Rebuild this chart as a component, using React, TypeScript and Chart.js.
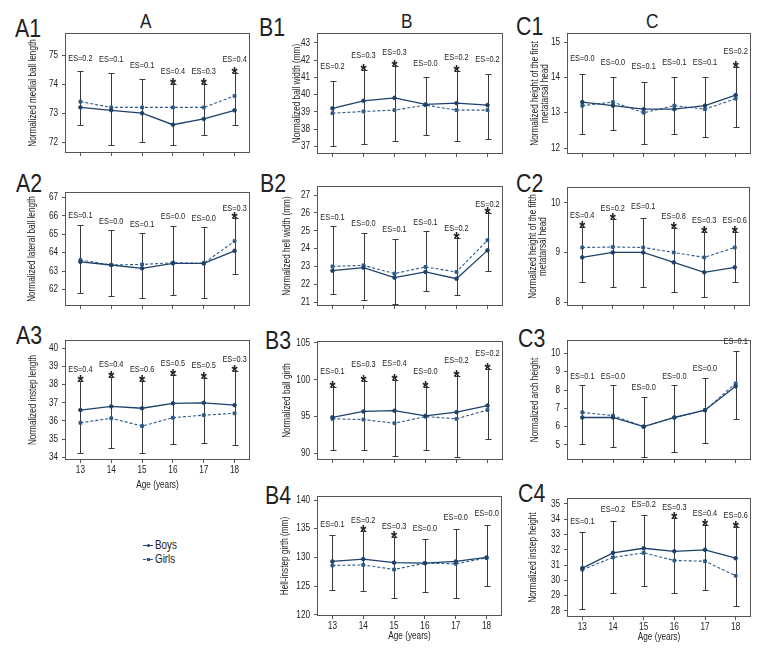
import React, { useEffect, useRef } from "react";
import { Chart, registerables } from "chart.js";

Chart.register(...registerables);

const FONT = "'Liberation Sans', Arial, sans-serif";
const SX = 0.82; // horizontal compression to mimic a narrow face
Chart.defaults.font.family = FONT;

const BOYS_COLOR = "#1d416b";
const GIRLS_COLOR = "#2c5b8a";
const INK = "#222";
const BAR = "#3a3a3a";

const ages = ["13", "14", "15", "16", "17", "18"];
const legendLabels = ["Boys", "Girls"];
const columnHeaders = ["A", "B", "C"];

// A1
const a1Boys = [73.2, 73.1, 73.0, 72.6, 72.8, 73.1];
const a1Girls = [73.4, 73.2, 73.2, 73.2, 73.2, 73.6];
const a1High = [74.45, 74.4, 74.2, 74.0, 74.0, 74.4];
const a1Low = [72.6, 71.9, 72.0, 71.9, 72.25, 72.6];
const a1ES = ["0.2", "0.1", "0.1", "0.4", "0.3", "0.4"];
const a1Star = [false, false, false, true, true, true];
const a1Ticks = [72, 73, 74, 75];

// A2
const a2Boys = [63.5, 63.33, 63.15, 63.42, 63.42, 64.1];
const a2Girls = [63.6, 63.33, 63.36, 63.45, 63.42, 64.63];
const a2High = [65.53, 65.23, 65.05, 65.46, 65.37, 65.9];
const a2Low = [61.82, 61.64, 61.55, 61.69, 61.51, 62.82];
const a2ES = ["0.1", "0.0", "0.1", "0.0", "0.0", "0.3"];
const a2Star = [false, false, false, false, false, true];
const a2Ticks = [62, 63, 64, 65, 66, 67];

// A3
const a3Boys = [36.6, 36.8, 36.7, 36.97, 37.0, 36.87];
const a3Girls = [35.9, 36.15, 35.72, 36.18, 36.32, 36.42];
const a3High = [38.2, 38.44, 38.2, 38.53, 38.39, 38.75];
const a3Low = [34.22, 34.53, 34.22, 34.72, 34.81, 34.68];
const a3ES = ["0.4", "0.4", "0.6", "0.5", "0.5", "0.3"];
const a3Star = [true, true, true, true, true, true];
const a3Ticks = [34, 35, 36, 37, 38, 39, 40];

// B1
const b1Boys = [39.2, 39.64, 39.81, 39.43, 39.5, 39.39];
const b1Girls = [38.92, 39.02, 39.1, 39.39, 39.1, 39.1];
const b1High = [40.8, 41.45, 41.64, 41.0, 41.35, 41.2];
const b1Low = [37.04, 37.14, 37.33, 37.64, 37.33, 37.43];
const b1ES = ["0.2", "0.3", "0.3", "0.0", "0.2", "0.2"];
const b1Star = [false, true, true, false, true, false];
const b1Ticks = [37, 38, 39, 40, 41, 42, 43];

// B2
const b2Boys = [22.76, 22.93, 22.37, 22.69, 22.31, 23.9];
const b2Girls = [23.0, 23.06, 22.6, 22.97, 22.69, 24.47];
const b2High = [25.25, 24.88, 24.56, 24.97, 24.6, 25.97];
const b2Low = [21.47, 21.13, 20.9, 21.62, 21.38, 22.75];
const b2ES = ["0.1", "0.0", "0.1", "0.1", "0.2", "0.2"];
const b2Star = [false, false, false, false, true, true];
const b2Ticks = [21, 22, 23, 24, 25, 26, 27];

// B3
const b3Boys = [94.9, 95.7, 95.8, 95.1, 95.6, 96.5];
const b3Girls = [94.7, 94.6, 94.1, 95.0, 94.7, 95.9];
const b3High = [99.0, 99.9, 100.0, 99.0, 100.5, 101.4];
const b3Low = [90.4, 90.5, 89.7, 90.5, 89.5, 91.9];
const b3ES = ["0.1", "0.3", "0.4", "0.0", "0.2", "0.2"];
const b3Star = [true, true, true, true, true, true];
const b3Ticks = [90, 95, 100, 105];

// B4
const b4Boys = [129.3, 129.7, 129.1, 129.0, 129.3, 130.0];
const b4Girls = [128.6, 128.7, 127.9, 129.0, 128.9, 129.9];
const b4High = [133.9, 134.6, 133.5, 133.2, 135.0, 135.7];
const b4Low = [124.3, 124.1, 123.0, 123.9, 122.9, 125.1];
const b4ES = ["0.1", "0.2", "0.3", "0.0", "0.0", "0.0"];
const b4Star = [false, true, true, false, false, false];
const b4Ticks = [120, 125, 130, 135, 140];

// C1
const c1Boys = [13.3, 13.2, 13.1, 13.1, 13.2, 13.5];
const c1Girls = [13.2, 13.3, 13.0, 13.2, 13.1, 13.4];
const c1High = [14.1, 14.0, 13.88, 14.0, 14.0, 14.3];
const c1Low = [12.4, 12.5, 12.1, 12.4, 12.3, 12.6];
const c1ES = ["0.0", "0.0", "0.1", "0.1", "0.1", "0.2"];
const c1Star = [false, false, false, false, false, true];
const c1Ticks = [12, 13, 14, 15];

// C2
const c2Boys = [8.9, 9.0, 9.0, 8.8, 8.6, 8.7];
const c2Girls = [9.1, 9.11, 9.1, 9.0, 8.9, 9.1];
const c2High = [9.52, 9.67, 9.7, 9.5, 9.42, 9.42];
const c2Low = [8.4, 8.3, 8.3, 8.2, 8.1, 8.4];
const c2ES = ["0.4", "0.2", "0.1", "0.8", "0.3", "0.6"];
const c2Star = [true, true, false, true, true, true];
const c2Ticks = [8, 9, 10];

// C3
const c3Boys = [6.5, 6.5, 6.0, 6.5, 6.9, 8.2];
const c3Girls = [6.78, 6.6, 6.0, 6.5, 6.9, 8.36];
const c3High = [8.27, 8.27, 7.64, 8.27, 8.67, 10.15];
const c3Low = [5.04, 4.91, 4.33, 4.6, 5.1, 6.4];
const c3ES = ["0.1", "0.0", "0.0", "0.0", "0.0", "0.1"];
const c3Star = [false, false, false, false, false, false];
const c3Ticks = [5, 6, 7, 8, 9, 10];

// C4
const c4Boys = [30.8, 31.8, 32.1, 31.9, 32.0, 31.45];
const c4Girls = [30.7, 31.5, 31.8, 31.3, 31.25, 30.3];
const c4High = [33.15, 33.9, 34.25, 34.05, 33.65, 33.5];
const c4Low = [28.1, 29.2, 29.6, 29.2, 29.4, 28.35];
const c4ES = ["0.1", "0.2", "0.2", "0.3", "0.4", "0.6"];
const c4Star = [false, false, false, true, true, true];
const c4Ticks = [28, 29, 30, 31, 32, 33, 34, 35];

type PanelCfg = {
  id: string;
  title: string | string[];
  boys: number[];
  girls: number[];
  high: number[];
  low: number[];
  es: string[];
  star: boolean[];
  yTicks: number[];
  yMin: number;
  yMax: number;
  frame: [number, number, number, number];
  titleX: number;
  gap: number;
  xLabels: boolean;
  xH: number;
  labelPos: [number, number];
};

const panels: PanelCfg[] = [
  { id: "A1", title: "Normalized medial ball length", boys: a1Boys, girls: a1Girls, high: a1High, low: a1Low, es: a1ES, star: a1Star, yTicks: a1Ticks, yMin: 71.62, yMax: 75.78, frame: [65, 33, 250, 153], titleX: 33, gap: 13, xLabels: false, xH: 12, labelPos: [15, 18] },
  { id: "A2", title: "Normalized lateral ball length", boys: a2Boys, girls: a2Girls, high: a2High, low: a2Low, es: a2ES, star: a2Star, yTicks: a2Ticks, yMin: 61.1, yMax: 67.3, frame: [65, 192, 250, 306], titleX: 32, gap: 9, xLabels: false, xH: 12, labelPos: [16, 173] },
  { id: "A3", title: "Normalized instep length", boys: a3Boys, girls: a3Girls, high: a3High, low: a3Low, es: a3ES, star: a3Star, yTicks: a3Ticks, yMin: 33.85, yMax: 40.46, frame: [65, 340, 250, 460], titleX: 33, gap: 12, xLabels: true, xH: 31, labelPos: [16, 325] },
  { id: "B1", title: "Normalized ball width (mm)", boys: b1Boys, girls: b1Girls, high: b1High, low: b1Low, es: b1ES, star: b1Star, yTicks: b1Ticks, yMin: 36.55, yMax: 43.58, frame: [317, 33, 503, 154], titleX: 297, gap: 14, xLabels: false, xH: 12, labelPos: [259, 17] },
  { id: "B2", title: "Normalized hell width (mm)", boys: b2Boys, girls: b2Girls, high: b2High, low: b2Low, es: b2ES, star: b2Star, yTicks: b2Ticks, yMin: 20.78, yMax: 27.51, frame: [317, 186, 503, 306], titleX: 287, gap: 9, xLabels: false, xH: 12, labelPos: [260, 173] },
  { id: "B3", title: "Normalized ball girth", boys: b3Boys, girls: b3Girls, high: b3High, low: b3Low, es: b3ES, star: b3Star, yTicks: b3Ticks, yMin: 89.1, yMax: 105.27, frame: [317, 341, 503, 460], titleX: 287, gap: 16, xLabels: false, xH: 12, labelPos: [265, 330] },
  { id: "B4", title: "Hell-instep girth (mm)", boys: b4Boys, girls: b4Girls, high: b4High, low: b4Low, es: b4ES, star: b4Star, yTicks: b4Ticks, yMin: 119.8, yMax: 140.7, frame: [317, 496, 502, 616], titleX: 285, gap: 11, xLabels: true, xH: 26, labelPos: [265, 485] },
  { id: "C1", title: ["Normalized height of the first", "metatarsal head"], boys: c1Boys, girls: c1Girls, high: c1High, low: c1Low, es: c1ES, star: c1Star, yTicks: c1Ticks, yMin: 11.83, yMax: 15.26, frame: [567, 33, 751, 154], titleX: 535, gap: 15, xLabels: false, xH: 12, labelPos: [516, 16] },
  { id: "C2", title: ["Normalized height of the fifth", "metatarsal head"], boys: c2Boys, girls: c2Girls, high: c2High, low: c2Low, es: c2ES, star: c2Star, yTicks: c2Ticks, yMin: 7.92, yMax: 10.32, frame: [567, 187, 750, 306], titleX: 533, gap: 11, xLabels: false, xH: 12, labelPos: [516, 173] },
  { id: "C3", title: "Normalized arch height", boys: c3Boys, girls: c3Girls, high: c3High, low: c3Low, es: c3ES, star: c3Star, yTicks: c3Ticks, yMin: 4.18, yMax: 10.73, frame: [567, 340, 751, 460], titleX: 535, gap: 9, xLabels: false, xH: 12, labelPos: [518, 328] },
  { id: "C4", title: "Normalized instep height", boys: c4Boys, girls: c4Girls, high: c4High, low: c4Low, es: c4ES, star: c4Star, yTicks: c4Ticks, yMin: 27.6, yMax: 35.39, frame: [567, 498, 751, 617], titleX: 533, gap: 11, xLabels: true, xH: 26, labelPos: [518, 483] },
];

const headerPos: [number, number][] = [[140, 10], [401, 10], [646, 10]];

const PAD_T = 12;
const PAD_R = 6;
const TITLE_LH = 10;

function narrowText(ctx: any) {
  if (ctx.__narrow) return;
  const orig = ctx.fillText;
  ctx.fillText = function (text: string, x: number, y: number, maxWidth?: number) {
    this.save();
    this.translate(x, y);
    this.scale(SX, 1);
    if (maxWidth === undefined || maxWidth === null) orig.call(this, text, 0, 0);
    else orig.call(this, text, 0, 0, maxWidth / SX);
    this.restore();
  };
  ctx.__narrow = true;
}

function Panel({ p }: { p: PanelCfg }) {
  const ref = useRef<HTMLCanvasElement | null>(null);
  const [fl, ft, fr, fb] = p.frame;
  const left = p.titleX - TITLE_LH / 2;
  const top = ft - PAD_T;
  const width = fr + PAD_R - left;
  const height = fb + p.xH - top;
  const yW = fl - left;

  useEffect(() => {
    if (!ref.current) return;
    narrowText(ref.current.getContext("2d"));
    const decor = {
      id: "decor" + p.id,
      beforeDatasetsDraw(chart: any) {
        const ctx = chart.ctx;
        const xs = chart.scales.x;
        const ys = chart.scales.y;
        ctx.save();
        ctx.strokeStyle = BAR;
        ctx.lineWidth = 1;
        p.high.forEach((h, i) => {
          const x = Math.round(xs.getPixelForValue(i)) + 0.5;
          const yt = Math.round(ys.getPixelForValue(h)) + 0.5;
          const yb = Math.round(ys.getPixelForValue(p.low[i])) + 0.5;
          ctx.beginPath();
          ctx.moveTo(x, yt);
          ctx.lineTo(x, yb);
          ctx.moveTo(x - 3, yt);
          ctx.lineTo(x + 3, yt);
          ctx.moveTo(x - 3, yb);
          ctx.lineTo(x + 3, yb);
          ctx.stroke();
        });
        ctx.restore();
      },
      afterDatasetsDraw(chart: any) {
        const ctx = chart.ctx;
        const a = chart.chartArea;
        const xs = chart.scales.x;
        const ys = chart.scales.y;
        ctx.save();
        ctx.strokeStyle = "#555";
        ctx.lineWidth = 1;
        ctx.strokeRect(Math.round(a.left) + 0.5, Math.round(a.top) + 0.5, Math.round(a.right - a.left) - 1, Math.round(a.bottom - a.top) - 1);
        ctx.fillStyle = INK;
        ctx.textAlign = "center";
        p.high.forEach((h, i) => {
          const x = xs.getPixelForValue(i);
          const yt = ys.getPixelForValue(h);
          ctx.font = `9px ${FONT}`;
          ctx.textBaseline = "middle";
          ctx.fillText("ES=" + p.es[i], x, yt - p.gap);
          if (p.star[i]) {
            ctx.font = `bold 19px ${FONT}`;
            ctx.textBaseline = "alphabetic";
            ctx.fillText("*", x, yt + 7);
          }
        });
        ctx.restore();
      },
    };

    const chart = new Chart(ref.current, {
      type: "line",
      data: {
        labels: ages,
        datasets: [
          {
            label: legendLabels[0],
            data: p.boys,
            borderColor: BOYS_COLOR,
            backgroundColor: BOYS_COLOR,
            borderWidth: 1.3,
            pointStyle: "circle",
            pointRadius: 1.8,
            pointBorderWidth: 1,
            tension: 0,
          },
          {
            label: legendLabels[1],
            data: p.girls,
            borderColor: GIRLS_COLOR,
            backgroundColor: GIRLS_COLOR,
            borderWidth: 1.1,
            borderDash: [3, 2],
            pointStyle: "rect",
            pointRadius: 2,
            pointBorderWidth: 1,
            tension: 0,
          },
        ],
      },
      options: {
        animation: false,
        responsive: false,
        maintainAspectRatio: false,
        layout: { padding: { left: 0, top: PAD_T, right: PAD_R, bottom: 0 } },
        plugins: { legend: { display: false }, tooltip: { enabled: false } },
        scales: {
          x: {
            type: "category",
            offset: true,
            grid: { display: true, drawOnChartArea: false, drawTicks: true, tickLength: 3, color: "#555", offset: false },
            border: { display: false },
            ticks: { display: p.xLabels, color: INK, font: { size: 10, family: FONT }, padding: 1, maxRotation: 0, autoSkip: false },
            title: { display: p.xLabels, text: "Age (years)", color: INK, font: { size: 10, family: FONT }, padding: { top: 0, bottom: 0 } },
            afterFit: (s: any) => { s.height = p.xH; },
          },
          y: {
            type: "linear",
            min: p.yMin,
            max: p.yMax,
            grid: { display: true, drawOnChartArea: false, drawTicks: true, tickLength: 3, color: "#555" },
            border: { display: false },
            ticks: { color: INK, font: { size: 10, family: FONT }, padding: 4 },
            title: { display: true, text: p.title, color: INK, font: { size: 10, family: FONT, lineHeight: 1.0 }, padding: { top: 0, bottom: 0 } },
            afterBuildTicks: (s: any) => { s.ticks = p.yTicks.map((v) => ({ value: v })); },
            afterFit: (s: any) => { s.width = yW; },
          },
        },
      },
      plugins: [decor],
    } as any);
    return () => chart.destroy();
  }, []);

  return (
    <canvas
      ref={ref}
      width={width}
      height={height}
      style={{ position: "absolute", left, top, width, height }}
    />
  );
}

function LegendMarker({ color, dashed, square }: { color: string; dashed: boolean; square: boolean }) {
  return (
    <span style={{ position: "relative", display: "inline-block", width: 10, height: 14, marginRight: 2 }}>
      <span style={{ position: "absolute", left: 0, top: 7, width: 10, borderTop: `1.2px ${dashed ? "dashed" : "solid"} ${color}` }} />
      <span style={{ position: "absolute", left: 3.5, top: 5.6, width: 3.5, height: 3.5, background: color, borderRadius: square ? 0 : "50%" }} />
    </span>
  );
}

const narrowStyle: React.CSSProperties = { display: "inline-block", transform: `scaleX(${SX})`, transformOrigin: "left center", whiteSpace: "nowrap" };

export default function App() {
  return (
    <div style={{ position: "absolute", left: 0, top: 0, width: 780, height: 660, background: "#fff", overflow: "hidden" }}>
      {columnHeaders.map((h, i) => (
        <div key={h} style={{ position: "absolute", left: headerPos[i][0], top: headerPos[i][1], font: `21px ${FONT}`, lineHeight: "21px", color: INK }}>
          <span style={narrowStyle}>{h}</span>
        </div>
      ))}
      {panels.map((p) => (
        <div key={"lbl" + p.id} style={{ position: "absolute", left: p.labelPos[0], top: p.labelPos[1] - 3.5, font: `26px ${FONT}`, lineHeight: "26px", color: INK }}>
          <span style={narrowStyle}>{p.id}</span>
        </div>
      ))}
      {panels.map((p) => (
        <Panel key={p.id} p={p} />
      ))}
      <div style={{ position: "absolute", left: 143, top: 538, font: `12px ${FONT}`, color: INK, lineHeight: "14px" }}>
        {legendLabels.map((l, i) => (
          <div key={l} style={{ display: "flex", alignItems: "center", height: 14 }}>
            <LegendMarker color={i === 0 ? BOYS_COLOR : GIRLS_COLOR} dashed={i === 1} square={i === 1} />
            <span style={narrowStyle}>{l}</span>
          </div>
        ))}
      </div>
    </div>
  );
}
